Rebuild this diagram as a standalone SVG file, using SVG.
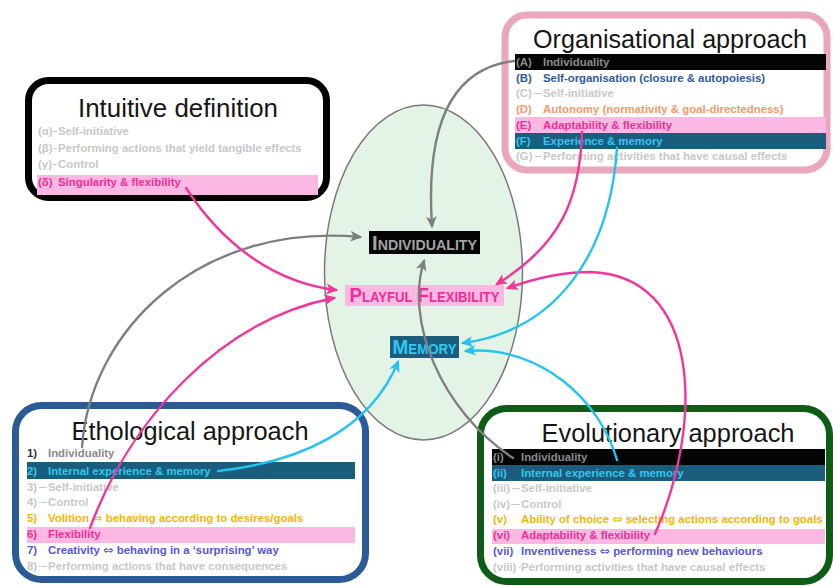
<svg xmlns="http://www.w3.org/2000/svg" width="833" height="586" viewBox="0 0 833 586">
  <defs>
    <style>
      .frame { fill: #ffffff; stroke-width: 7; }
      .title { font-family: "Liberation Sans", Arial, sans-serif; font-size: 25px; fill: #161616; text-anchor: middle; }
      .it { font-family: "Liberation Sans", "DejaVu Sans", sans-serif; font-size: 11.4px; font-weight: bold; }
      .eq { font-family: "DejaVu Sans", sans-serif; font-weight: normal; font-size: 12.5px; }
      .off { fill: #c8c8c8; }
      .strike { stroke: #c8c8c8; stroke-width: 1; }
      .gry { fill: #8a8a8a; }
      .dark { fill: #333333; }
      .blu { fill: #2f5a9a; }
      .org { fill: #f4996a; }
      .mag { fill: #ec2f97; }
      .cyn { fill: #35c6f0; }
      .gld { fill: #f4b40a; }
      .pur { fill: #5656d8; }
      .barK { fill: #050505; }
      .barT { fill: #1a5d7c; }
      .barP { fill: #fbb8e2; }
      .core { font-family: "Liberation Sans", Arial, sans-serif; font-weight: bold; font-variant: small-caps; font-size: 20px; text-anchor: middle; }
      .link { fill: none; stroke-width: 2.4; stroke-linecap: round; }
    </style>
    <marker id="ah-gray" viewBox="0 0 10 10" refX="8" refY="5" markerWidth="12" markerHeight="12" markerUnits="userSpaceOnUse" orient="auto">
      <path d="M0,0.5 L10,5 L0,9.5 L2.5,5 z" fill="#7f7f7f"/>
    </marker>
    <marker id="ah-pink" viewBox="0 0 10 10" refX="8" refY="5" markerWidth="12" markerHeight="12" markerUnits="userSpaceOnUse" orient="auto">
      <path d="M0,0.5 L10,5 L0,9.5 L2.5,5 z" fill="#f0369b"/>
    </marker>
    <marker id="ah-cyan" viewBox="0 0 10 10" refX="8" refY="5" markerWidth="12" markerHeight="12" markerUnits="userSpaceOnUse" orient="auto">
      <path d="M0,0.5 L10,5 L0,9.5 L2.5,5 z" fill="#22c3f0"/>
    </marker>
  </defs>

  <rect x="0" y="0" width="833" height="586" fill="#ffffff"/>

  <!-- central ellipse with the three core notions -->
  <g id="core">
    <ellipse cx="423.5" cy="272.5" rx="99" ry="167.5" fill="#e3f4e6" stroke="#7a7a7a" stroke-width="1.5"/>
  </g>

  <!-- Intuitive definition -->
  <g id="intuitive">
    <rect class="frame" x="28.5" y="80.5" width="298" height="117" rx="20" stroke="#000000"/>
    <text class="title" x="178" y="117" textLength="200" lengthAdjust="spacingAndGlyphs">Intuitive definition</text>
    <rect class="barP" x="37" y="175" width="281" height="20"/>
    <text class="it off" x="38" y="135">(α)</text><line class="strike" x1="53" y1="131.5" x2="57" y2="131.5"/><text class="it off" x="58" y="135">Self-initiative</text>
    <text class="it off" x="38" y="152">(β)</text><line class="strike" x1="53" y1="148.5" x2="57" y2="148.5"/><text class="it off" x="58" y="152">Performing actions that yield tangible effects</text>
    <text class="it off" x="38" y="168">(γ)</text><line class="strike" x1="53" y1="164.5" x2="57" y2="164.5"/><text class="it off" x="58" y="168">Control</text>
    <text class="it mag" x="38" y="186">(δ)</text><text class="it mag" x="58" y="186">Singularity &amp; flexibility</text>
  </g>

  <!-- Organisational approach -->
  <g id="organisational">
    <rect class="frame" x="505" y="15" width="322" height="155" rx="22" stroke="#eaa6ba"/>
    <text class="title" x="670" y="48" textLength="274" lengthAdjust="spacingAndGlyphs">Organisational approach</text>
    <rect class="barK" x="515" y="54" width="311" height="16"/>
    <rect class="barP" x="515" y="117" width="311" height="16"/>
    <rect class="barT" x="515" y="133" width="311" height="16"/>
    <text class="it gry" x="516" y="65.5">(A)</text><text class="it gry" x="543" y="65.5">Individuality</text>
    <text class="it blu" x="516" y="82">(B)</text><text class="it blu" x="543" y="82">Self-organisation (closure &amp; autopoiesis)</text>
    <text class="it off" x="516" y="97">(C)</text><line class="strike" x1="534" y1="93.5" x2="542" y2="93.5"/><text class="it off" x="543" y="97">Self-initiative</text>
    <text class="it org" x="516" y="113">(D)</text><text class="it org" x="543" y="113">Autonomy (normativity &amp; goal-directedness)</text>
    <text class="it mag" x="516" y="129">(E)</text><text class="it mag" x="543" y="129">Adaptability &amp; flexibility</text>
    <text class="it cyn" x="516" y="144.5">(F)</text><text class="it cyn" x="543" y="144.5">Experience &amp; memory</text>
    <text class="it off" x="516" y="160">(G)</text><line class="strike" x1="535" y1="156.5" x2="542" y2="156.5"/><text class="it off" x="543" y="160">Performing activities that have causal effects</text>
  </g>

  <!-- Ethological approach -->
  <g id="ethological">
    <rect class="frame" x="15.5" y="405.5" width="350" height="174" rx="26" stroke="#2b5a96"/>
    <text class="title" x="190" y="440" textLength="237" lengthAdjust="spacingAndGlyphs">Ethological approach</text>
    <rect class="barT" x="27" y="462" width="328" height="17"/>
    <rect class="barP" x="27" y="527" width="328" height="16"/>
    <text class="it dark" x="27" y="457">1)</text><text class="it gry" x="48" y="457">Individuality</text>
    <text class="it cyn" x="27" y="475">2)</text><text class="it cyn" x="48" y="475">Internal experience &amp; memory</text>
    <text class="it off" x="27" y="491">3)</text><line class="strike" x1="39" y1="487.5" x2="47" y2="487.5"/><text class="it off" x="48" y="491">Self-initiative</text>
    <text class="it off" x="27" y="506">4)</text><line class="strike" x1="39" y1="502.5" x2="47" y2="502.5"/><text class="it off" x="48" y="506">Control</text>
    <text class="it gld" x="27" y="522">5)</text><text class="it gld" x="48" y="522">Volition <tspan class="eq">⇔</tspan> behaving according to desires/goals</text>
    <text class="it mag" x="27" y="538">6)</text><text class="it mag" x="48" y="538">Flexibility</text>
    <text class="it pur" x="27" y="554">7)</text><text class="it pur" x="48" y="554">Creativity <tspan class="eq">⇔</tspan> behaving in a ‘surprising’ way</text>
    <text class="it off" x="27" y="570">8)</text><line class="strike" x1="39" y1="566.5" x2="47" y2="566.5"/><text class="it off" x="48" y="570">Performing actions that have consequences</text>
  </g>

  <!-- Evolutionary approach -->
  <g id="evolutionary">
    <rect class="frame" x="480.5" y="408.5" width="349" height="173" rx="26" stroke="#0f5c16"/>
    <text class="title" x="668" y="442" textLength="253" lengthAdjust="spacingAndGlyphs">Evolutionary approach</text>
    <rect class="barK" x="492" y="449" width="333" height="16"/>
    <rect class="barT" x="492" y="465" width="333" height="16"/>
    <rect class="barP" x="492" y="529" width="333" height="15"/>
    <text class="it gry" x="493" y="461">(i)</text><text class="it gry" x="521" y="461">Individuality</text>
    <text class="it cyn" x="493" y="476.5">(ii)</text><text class="it cyn" x="521" y="476.5">Internal experience &amp; memory</text>
    <text class="it off" x="493" y="492">(iii)</text><line class="strike" x1="512" y1="488.5" x2="520" y2="488.5"/><text class="it off" x="521" y="492">Self-initiative</text>
    <text class="it off" x="493" y="508">(iv)</text><line class="strike" x1="511" y1="504.5" x2="520" y2="504.5"/><text class="it off" x="521" y="508">Control</text>
    <text class="it gld" x="493" y="523">(v)</text><text class="it gld" x="521" y="523">Ability of choice <tspan class="eq">⇔</tspan> selecting actions according to goals</text>
    <text class="it mag" x="493" y="539">(vi)</text><text class="it mag" x="521" y="539">Adaptability &amp; flexibility</text>
    <text class="it pur" x="493" y="555">(vii)</text><text class="it pur" x="521" y="555">Inventiveness <tspan class="eq">⇔</tspan> performing new behaviours</text>
    <text class="it off" x="493" y="571">(viii)</text><line class="strike" x1="519" y1="567.5" x2="520.5" y2="567.5"/><text class="it off" x="521" y="571">Performing activities that have causal effects</text>
  </g>

  <!-- core notions inside the ellipse -->
  <g id="individuality">
    <rect class="barK" x="369" y="231" width="111" height="23"/>
    <text class="core" x="424.5" y="250" fill="#a3a3a3" textLength="105" lengthAdjust="spacingAndGlyphs">Individuality</text>
  </g>
  <g id="playful-flexibility">
    <rect class="barP" x="345" y="285" width="159" height="21"/>
    <text class="core" x="424.5" y="302" fill="#ec2f97" textLength="150" lengthAdjust="spacingAndGlyphs">Playful Flexibility</text>
  </g>
  <g id="memory">
    <rect class="barT" x="390" y="336" width="69" height="22"/>
    <text class="core" x="424.5" y="354" fill="#2ec8f2" textLength="64" lengthAdjust="spacingAndGlyphs">Memory</text>
  </g>

  <!-- connectors -->
  <g id="connectors">
    <g stroke="#7f7f7f" marker-end="url(#ah-gray)">
      <path class="link" stroke-width="2" d="M514 61 C455 68 425 120 432 226"/>
      <path class="link" stroke-width="2" d="M82 447 C90 330 200 222 360 237"/>
      <path class="link" stroke-width="2" d="M513 458 C440 410 405 320 424 261"/>
    </g>
    <g stroke="#f0369b" marker-end="url(#ah-pink)">
      <path class="link" d="M186 188 C220 240 270 282 336 290"/>
      <path class="link" d="M90 528 C130 420 220 320 334 298"/>
      <path class="link" d="M582 132 C580 200 560 245 497 284"/>
      <path class="link" d="M655 534 C705 420 700 275 590 272 C560 272 530 280 508 288"/>
    </g>
    <g stroke="#22c3f0" marker-end="url(#ah-cyan)">
      <path class="link" d="M218 471 C300 462 370 430 398 362"/>
      <path class="link" d="M617 148 C610 250 560 330 463 343"/>
      <path class="link" d="M617 460 C600 400 540 345 466 351"/>
    </g>
  </g>
</svg>
